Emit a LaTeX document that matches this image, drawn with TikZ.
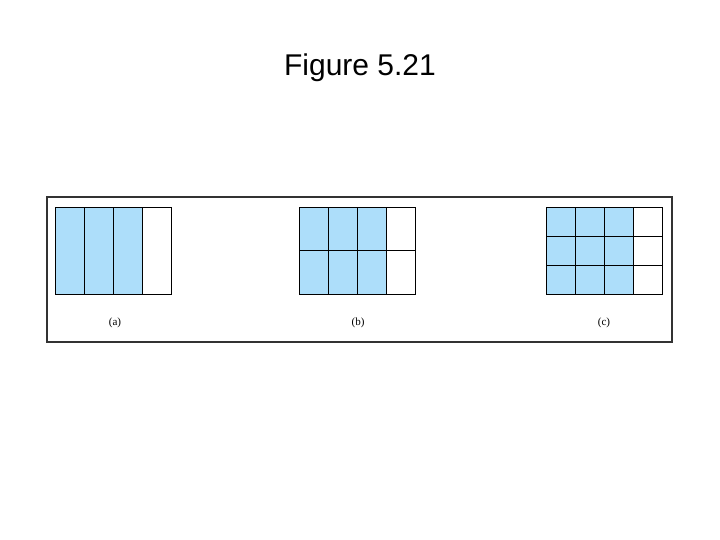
\documentclass[tikz,border=0pt]{standalone}
\usepackage{fontspec}
\setmainfont{Liberation Sans}
\newfontfamily\labelfont{Liberation Serif}
\usepackage{tikz}
\usetikzlibrary{positioning}
\definecolor{cellblue}{RGB}{173,222,250}
\tikzset{cell/.style={draw=black,line width=0.9pt},
  blue cell/.style={cell,fill=cellblue},
  sublabel/.style={font=\fontsize{11}{13}\selectfont\labelfont}}
\begin{document}
\begin{tikzpicture}[x=1pt,y=1pt]
  \useasboundingbox (0,0) rectangle (720,540);
  \node (title) at (360,472) {\fontsize{30}{36}\selectfont Figure 5.21};
  \draw[line width=1.6pt,draw=black!80] (47,198) rectangle (672,343);
  % grid (a): 4 columns, 1 row
  \foreach \c in {0,...,3} {
    \ifnum\c<3 \def\st{blue cell}\else\def\st{cell}\fi
    \draw[\st] (55+29*\c,246) rectangle ++(29,87);
  }
  % grid (b): 4 columns, 2 rows
  \foreach \c in {0,...,3} \foreach \r in {0,1} {
    \ifnum\c<3 \def\st{blue cell}\else\def\st{cell}\fi
    \draw[\st] (299+29*\c,246+43.5*\r) rectangle ++(29,43.5);
  }
  % grid (c): 4 columns, 3 rows
  \foreach \c in {0,...,3} \foreach \r in {0,1,2} {
    \ifnum\c<3 \def\st{blue cell}\else\def\st{cell}\fi
    \draw[\st] (546+29*\c,246+29*\r) rectangle ++(29,29);
  }
  \node[sublabel] (la) at (115,217) {(a)};
  \node[sublabel] (lb) at (358,217) {(b)};
  \node[sublabel] (lc) at (604,217) {(c)};
\end{tikzpicture}
\end{document}
